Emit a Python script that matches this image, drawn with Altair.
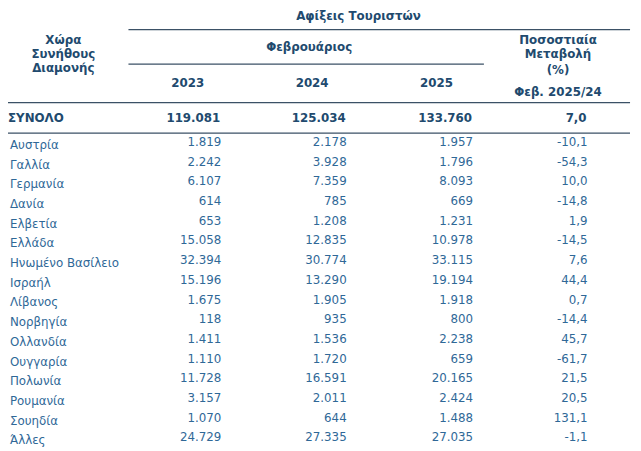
import altair as alt
import pandas as pd

countries = ["Αυστρία", "Γαλλία", "Γερμανία", "Δανία", "Ελβετία", "Ελλάδα",
             "Ηνωμένο Βασίλειο", "Ισραήλ", "Λίβανος", "Νορβηγία", "Ολλανδία",
             "Ουγγαρία", "Πολωνία", "Ρουμανία", "Σουηδία", "Άλλες"]
v2023 = [1819, 2242, 6107, 614, 653, 15058, 32394, 15196, 1675, 118, 1411,
         1110, 11728, 3157, 1070, 24729]
v2024 = [2178, 3928, 7359, 785, 1208, 12835, 30774, 13290, 1905, 935, 1536,
         1720, 16591, 2011, 644, 27335]
v2025 = [1957, 1796, 8093, 669, 1231, 10978, 33115, 19194, 1918, 800, 2238,
         659, 20165, 2424, 1488, 27035]
pct = [-10.1, -54.3, 10.0, -14.8, 1.9, -14.5, 7.6, 44.4, 0.7, -14.4, 45.7,
       -61.7, 21.5, 20.5, 131.1, -1.1]

total_label = "ΣΥΝΟΛΟ"
total_vals = [119081, 125034, 133760]
total_pct = 7.0

years = ["2023", "2024", "2025"]


def fmt_int(v):
    return f"{v:,}".replace(",", ".")


def fmt_pct(v):
    return f"{v:.1f}".replace(".", ",")


BOLD = "#214a6e"
REG = "#2f6897"
LINE = "#3b5166"
FONT = "DejaVu Sans"

body = pd.DataFrame({
    "row": countries,
    "c2023": [fmt_int(v) for v in v2023],
    "c2024": [fmt_int(v) for v in v2024],
    "c2025": [fmt_int(v) for v in v2025],
    "cpct": [fmt_pct(v) for v in pct],
})

yscale = alt.Scale(domain=countries, range=[133, 432], type="point", padding=0)
Y = alt.Y("row:N", sort=countries, scale=yscale, axis=None)

base = alt.Chart(body)

layers = []
layers.append(base.mark_text(align="left", baseline="middle", font=FONT, fontSize=12,
                             color=REG, dy=3).encode(
    x=alt.value(2), y=Y, text="row:N"))
for field, xpos in [("c2023", 216), ("c2024", 343), ("c2025", 471), ("cpct", 587)]:
    layers.append(base.mark_text(align="right", baseline="middle", font=FONT, fontSize=12,
                                 color=REG).encode(
        x=alt.value(xpos), y=Y, text=f"{field}:N"))

# total row
tot = pd.DataFrame({
    "label": [total_label, fmt_int(total_vals[0]), fmt_int(total_vals[1]),
              fmt_int(total_vals[2]), fmt_pct(total_pct)],
    "xp": [0, 215, 342, 470, 586],
    "al": ["left", "right", "right", "right", "right"],
})
for i in range(len(tot)):
    layers.append(alt.Chart(tot.iloc[[i]]).mark_text(
        align=tot["al"][i], baseline="middle", font=FONT, fontSize=12,
        fontWeight="bold", color=BOLD).encode(
        x=alt.value(int(tot["xp"][i])), y=alt.value(109), text="label:N"))

# header texts
hdr = [
    ("Αφίξεις Τουριστών", 355, 5),
    ("Χώρα", 56, 30), ("Συνήθους", 56, 44), ("Διαμονής", 56, 58),
    ("Φεβρουάριος", 305, 37),
    ("Ποσοστιαία", 557, 30), ("Μεταβολή", 557, 44), ("(%)", 557, 60),
    ("Φεβ. 2025/24", 557, 82),
    (years[0], 182, 73), (years[1], 308, 73), (years[2], 434, 73),
]
hdf = pd.DataFrame({"t": [h[0] for h in hdr]})
for i, (t, xp, yp) in enumerate(hdr):
    layers.append(alt.Chart(hdf.iloc[[i]]).mark_text(
        align="center", baseline="middle", font=FONT, fontSize=12,
        fontWeight="bold", color=BOLD).encode(
        x=alt.value(xp), y=alt.value(yp), text="t:N"))

# rules
rules = [(122, 630, 19), (122, 482, 54), (0, 630, 93), (0, 630, 124)]
rdf = pd.DataFrame({"k": list(range(len(rules)))})
for i, (x1, x2, yy) in enumerate(rules):
    layers.append(alt.Chart(rdf.iloc[[i]]).mark_rule(color=LINE, strokeWidth=1.3).encode(
        x=alt.value(x1), x2=alt.value(x2), y=alt.value(yy)))

chart = alt.layer(*layers).properties(
    width=633, height=443, padding=0, autosize=alt.AutoSizeParams(type="none"),
    background="white"
).configure_view(stroke=None)

chart.save("out.html", embed_options={"renderer": "svg", "actions": False})
